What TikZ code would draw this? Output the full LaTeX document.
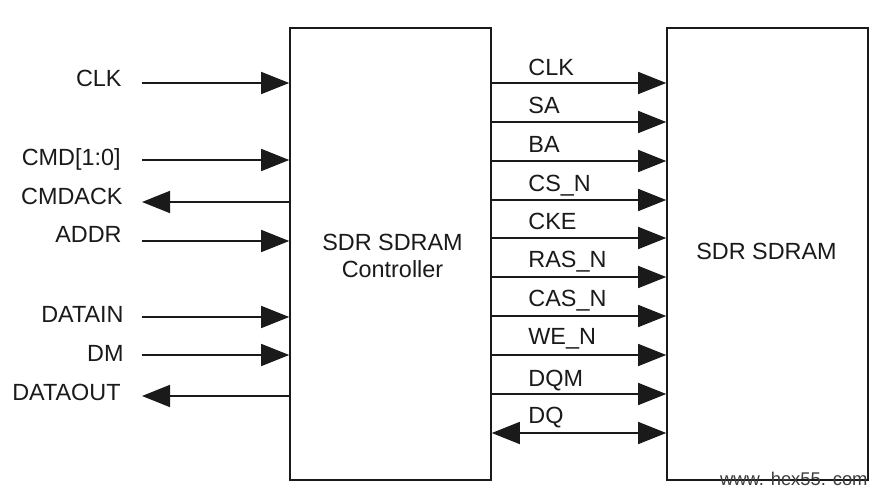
\documentclass[tikz,border=0pt]{standalone}
\usepackage{fontspec}
\setmainfont{Liberation Sans}
\usetikzlibrary{arrows.meta}
\definecolor{ink}{HTML}{1A1A1A}
\begin{document}
\begin{tikzpicture}[x=0.5pt,y=-0.5pt,
  blockbox/.style={draw=ink,line width=0.8pt,minimum width=100.5pt,minimum height=226pt,inner sep=0pt},
  sig/.style={draw=ink,line width=0.8pt,-{Triangle[length=14pt,width=11pt]}},
  bisig/.style={draw=ink,line width=0.8pt,{Triangle[length=14pt,width=11pt]}-{Triangle[length=14pt,width=11pt]}},
  lbl/.style={font=\fontsize{11.7pt}{14pt}\selectfont,text=ink,inner sep=0pt},
  llbl/.style={lbl,anchor=base east},
  rlbl/.style={lbl,anchor=base west},
  wm/.style={font=\fontsize{9.2pt}{11pt}\selectfont,text=ink!85,inner sep=0pt,anchor=base east}]
\useasboundingbox (0,0) rectangle (884,501);
\fill[white] (0,0) rectangle (884,501);
% blocks
\node[blockbox] (ctrl) at (390.5,254) {};
\node[blockbox] (ram) at (767.5,254) {};
\node[lbl,anchor=base] (ctrlt1) at (392.5,251) {SDR SDRAM};
\node[lbl,anchor=base] (ctrlt2) at (392.5,278) {Controller};
\node[lbl,anchor=base] (ramt) at (766.5,260) {SDR SDRAM};
% left side free ends
\coordinate (iCLK) at (142,83);
\coordinate (iCMD) at (142,160);
\coordinate (oCMDACK) at (142,202);
\coordinate (iADDR) at (142,241);
\coordinate (iDATAIN) at (142,317);
\coordinate (iDM) at (142,355);
\coordinate (oDATAOUT) at (142,396);
\draw[sig] (iCLK) -- (iCLK -| ctrl.west);
\draw[sig] (iCMD) -- (iCMD -| ctrl.west);
\draw[sig] (oCMDACK -| ctrl.west) -- (oCMDACK);
\draw[sig] (iADDR) -- (iADDR -| ctrl.west);
\draw[sig] (iDATAIN) -- (iDATAIN -| ctrl.west);
\draw[sig] (iDM) -- (iDM -| ctrl.west);
\draw[sig] (oDATAOUT -| ctrl.west) -- (oDATAOUT);
\node[llbl] (lCLK) at (122,87) {CLK};
\node[llbl] (lCMD) at (121,166) {CMD[1:0]};
\node[llbl] (lCMDACK) at (123,205) {CMDACK};
\node[llbl] (lADDR) at (122,243) {ADDR};
\node[llbl] (lDATAIN) at (124,323) {DATAIN};
\node[llbl] (lDM) at (124,362) {DM};
\node[llbl] (lDATAOUT) at (121,401) {DATAOUT};
% right side signals
\coordinate (rCLK) at (491,83);
\coordinate (rSA) at (491,122);
\coordinate (rBA) at (491,161);
\coordinate (rCSN) at (491,200);
\coordinate (rCKE) at (491,238);
\coordinate (rRASN) at (491,277);
\coordinate (rCASN) at (491,316);
\coordinate (rWEN) at (491,355);
\coordinate (rDQM) at (491,394);
\coordinate (rDQ) at (491,433);
\foreach \s in {rCLK,rSA,rBA,rCSN,rCKE,rRASN,rCASN,rWEN,rDQM}
  \draw[sig] (\s -| ctrl.east) -- (\s -| ram.west);
\draw[bisig] (rDQ -| ctrl.east) -- (rDQ -| ram.west);
\node[rlbl] (tCLK) at (528,76) {CLK};
\node[rlbl] (tSA) at (528,114) {SA};
\node[rlbl] (tBA) at (528,153) {BA};
\node[rlbl] (tCSN) at (528,192) {CS\_N};
\node[rlbl] (tCKE) at (528,230) {CKE};
\node[rlbl] (tRASN) at (528,268) {RAS\_N};
\node[rlbl] (tCASN) at (528,307) {CAS\_N};
\node[rlbl] (tWEN) at (528,345) {WE\_N};
\node[rlbl] (tDQM) at (528,387) {DQM};
\node[rlbl] (tDQ) at (528,424) {DQ};
% watermark
\node[wm] (wmark) at (868,486) {www. hex55. com};
\end{tikzpicture}
\end{document}
